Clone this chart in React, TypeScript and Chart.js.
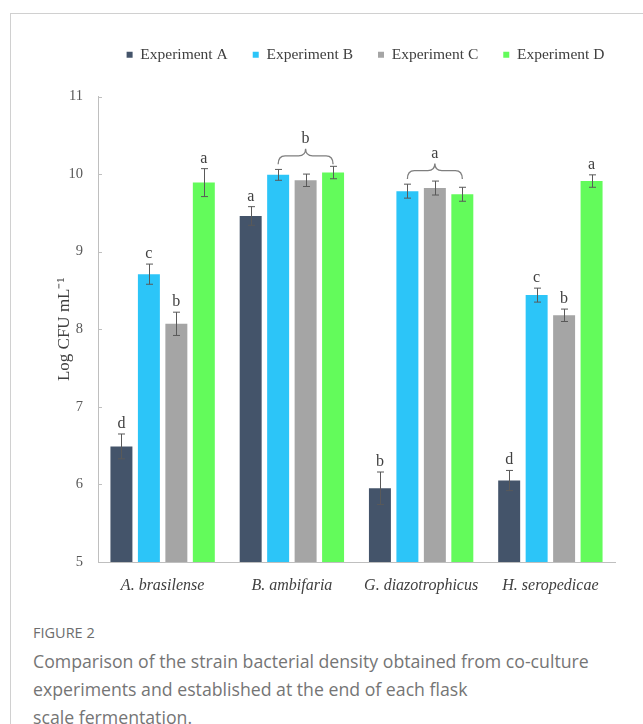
import React, { useEffect, useRef } from 'react';
import { Chart, registerables } from 'chart.js';

Chart.register(...registerables);

const categories = ['A. brasilense', 'B. ambifaria', 'G. diazotrophicus', 'H. seropedicae'];
const seriesNames = ['Experiment A', 'Experiment B', 'Experiment C', 'Experiment D'];
const expA = [6.49, 9.46, 5.95, 6.05];
const expB = [8.71, 9.99, 9.78, 8.44];
const expC = [8.07, 9.92, 9.82, 8.18];
const expD = [9.89, 10.02, 9.74, 9.91];
const errA = [0.16, 0.12, 0.21, 0.13];
const errB = [0.13, 0.07, 0.09, 0.09];
const errC = [0.15, 0.08, 0.09, 0.08];
const errD = [0.18, 0.08, 0.09, 0.08];
const lettersA = ['d', 'a', 'b', 'd'];
const lettersB = ['c', '', '', 'c'];
const lettersC = ['b', '', '', 'b'];
const lettersD = ['a', '', '', 'a'];
const groupLetters = ['', 'b', 'a', ''];
const yMin = 5;
const yMax = 11;
const yStep = 1;
const colors = ['#44546A', '#2CC5F8', '#A5A5A5', '#63FB5B'];

const SERIF = "'Liberation Serif', 'Times New Roman', Times, serif";
const SANS = "'Open Sans', 'Noto Sans', Arial, sans-serif";

const values = [expA, expB, expC, expD];
const errors = [errA, errB, errC, errD];
const letters = [lettersA, lettersB, lettersC, lettersD];

const legendPlacer = {
  id: 'legendPlacer',
  afterLayout(chart: any) {
    const lg = chart.legend;
    if (!lg) return;
    const h = lg.bottom - lg.top;
    const cx = 365.5;
    const half = 300;
    lg.left = cx - half;
    lg.right = cx + half;
    lg.width = half * 2;
    lg.top = 22;
    lg.bottom = 22 + h;
  },
};

const annotations = {
  id: 'annotations',
  afterDatasetsDraw(chart: any) {
    const { ctx, chartArea } = chart;
    const y = chart.scales.y;
    ctx.save();
    ctx.strokeStyle = '#BFBFBF';
    ctx.lineWidth = 1;
    for (let v = yMin; v <= yMax; v += yStep) {
      const py = Math.round(y.getPixelForValue(v)) + 0.5;
      ctx.beginPath();
      ctx.moveTo(chartArea.left, py);
      ctx.lineTo(chartArea.left + 4, py);
      ctx.stroke();
    }
    const errTops: number[][] = [];
    values.forEach((vals, di) => {
      const meta = chart.getDatasetMeta(di);
      errTops[di] = [];
      vals.forEach((v, i) => {
        const el = meta.data[i];
        const x = Math.round(el.x) + 0.5;
        const e = errors[di][i];
        const top = y.getPixelForValue(v + e);
        const bot = y.getPixelForValue(v - e);
        errTops[di][i] = top;
        ctx.strokeStyle = '#595959';
        ctx.lineWidth = 1;
        ctx.beginPath();
        ctx.moveTo(x, top);
        ctx.lineTo(x, bot);
        ctx.moveTo(x - 3.5, top);
        ctx.lineTo(x + 3.5, top);
        ctx.moveTo(x - 3.5, bot);
        ctx.lineTo(x + 3.5, bot);
        ctx.stroke();
        const lt = letters[di][i];
        if (lt) {
          ctx.fillStyle = '#404040';
          ctx.font = `16px ${SERIF}`;
          ctx.textAlign = 'center';
          ctx.textBaseline = 'alphabetic';
          ctx.fillText(lt, el.x, top - 6);
        }
      });
    });
    groupLetters.forEach((lt, i) => {
      if (!lt) return;
      const x1 = chart.getDatasetMeta(1).data[i].x;
      const x2 = chart.getDatasetMeta(3).data[i].x;
      const xm = (x1 + x2) / 2;
      const minTop = Math.min(errTops[1][i], errTops[2][i], errTops[3][i]);
      const yEnd = minTop - 2;
      const yH = yEnd - 8.5;
      const yTip = yH - 7;
      const r = 7;
      ctx.strokeStyle = '#7F7F7F';
      ctx.lineWidth = 1.3;
      ctx.beginPath();
      ctx.moveTo(x1, yEnd);
      ctx.quadraticCurveTo(x1, yH, x1 + r, yH);
      ctx.lineTo(xm - r, yH);
      ctx.quadraticCurveTo(xm, yH, xm, yTip);
      ctx.quadraticCurveTo(xm, yH, xm + r, yH);
      ctx.lineTo(x2 - r, yH);
      ctx.quadraticCurveTo(x2, yH, x2, yEnd);
      ctx.stroke();
      ctx.fillStyle = '#404040';
      ctx.font = `16px ${SERIF}`;
      ctx.textAlign = 'center';
      ctx.textBaseline = 'alphabetic';
      ctx.fillText(lt, xm, yTip - 6);
    });
    ctx.restore();
  },
};

export default function App() {
  const canvasRef = useRef<HTMLCanvasElement | null>(null);

  useEffect(() => {
    const canvas = canvasRef.current;
    if (!canvas) return;
    const chart = new Chart(canvas, {
      type: 'bar',
      data: {
        labels: categories,
        datasets: seriesNames.map((name, di) => ({
          label: name,
          data: values[di],
          backgroundColor: colors[di],
          borderWidth: 0,
          categoryPercentage: 0.85,
          barPercentage: 0.8,
        })),
      },
      options: {
        responsive: false,
        animation: false,
        layout: { padding: { top: 46, right: 28, bottom: 0, left: 0 } },
        plugins: {
          legend: {
            position: 'top',
            labels: {
              boxWidth: 6,
              boxHeight: 6,
              padding: 25,
              color: '#404040',
              font: { family: SERIF, size: 15.5 },
            },
          },
          tooltip: { enabled: false },
          title: { display: false },
        },
        scales: {
          x: {
            grid: { drawOnChartArea: false, drawTicks: false },
            border: { display: true, color: '#BFBFBF', width: 1 },
            ticks: {
              padding: 14,
              color: '#404040',
              font: { family: SERIF, size: 16, style: 'italic' },
            },
            afterFit(scale: any) {
              scale.height = 48;
            },
          },
          y: {
            min: yMin,
            max: yMax,
            grid: { drawOnChartArea: false, drawTicks: false },
            border: { display: true, color: '#BFBFBF', width: 1 },
            ticks: {
              stepSize: yStep,
              padding: 15,
              color: '#595959',
              font: { family: SERIF, size: 14.5 },
            },
            title: {
              display: true,
              text: 'Log CFU mL⁻¹',
              color: '#404040',
              font: { family: SERIF, size: 17 },
              padding: { top: 54, bottom: 0 },
            },
            afterFit(scale: any) {
              scale.width = 98;
            },
          },
        },
      },
      plugins: [legendPlacer, annotations],
    });
    return () => chart.destroy();
  }, []);

  return (
    <div
      style={{
        position: 'absolute',
        left: 0,
        top: 0,
        width: 643,
        height: 724,
        overflow: 'hidden',
        background: '#ffffff',
      }}
    >
      <div
        style={{
          position: 'absolute',
          left: 10,
          top: 13,
          width: 700,
          height: 800,
          borderTop: '1px solid #D0D0D0',
          borderLeft: '1px solid #D0D0D0',
        }}
      />
      <canvas
        ref={canvasRef}
        width={643}
        height={610}
        style={{ position: 'absolute', left: 0, top: 0, width: 643, height: 610 }}
      />
      <div
        style={{
          position: 'absolute',
          left: 33,
          top: 624,
          fontFamily: SANS,
          fontSize: 14.5,
          lineHeight: '18px',
          color: '#6D6D6D',
        }}
      >
        FIGURE 2
      </div>
      <div
        style={{
          position: 'absolute',
          left: 33,
          top: 647,
          width: 610,
          fontFamily: SANS,
          fontSize: 17.7,
          lineHeight: '28px',
          color: '#757575',
          whiteSpace: 'nowrap',
        }}
      >
        Comparison of the strain bacterial density obtained from co-culture
        <br />
        experiments and established at the end of each flask
        <br />
        scale fermentation.
      </div>
    </div>
  );
}
